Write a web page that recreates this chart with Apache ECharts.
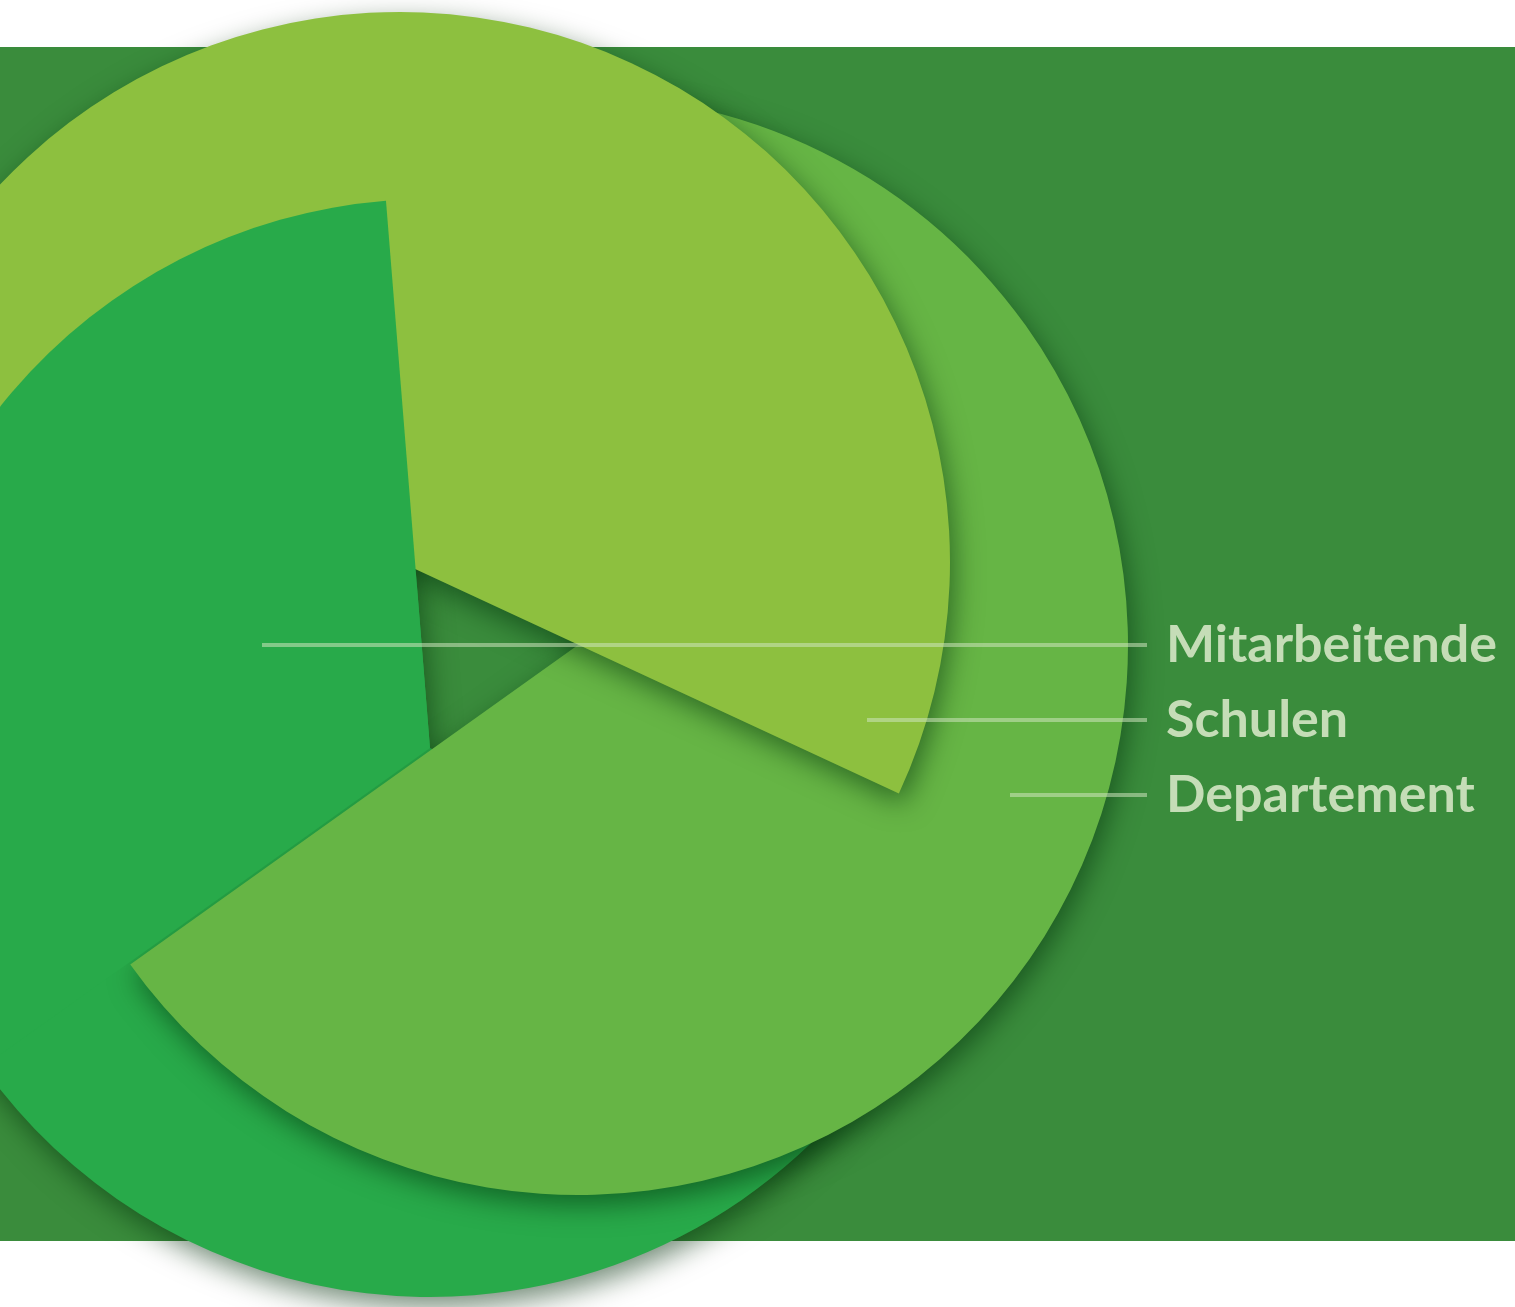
<!DOCTYPE html>
<html>
<head>
<meta charset="utf-8">
<script src="https://cdn.jsdelivr.net/npm/echarts@6/dist/echarts.min.js"></script>
<style>
  html, body { margin: 0; padding: 0; background: #fff; }
  #chart { width: 1515px; height: 1307px; }
</style>
</head>
<body>
<div id="chart"></div>
<script>
// data
const categories = ['Mitarbeitende', 'Schulen', 'Departement']
const sweep = [240, 240, 240] // arc of each slice, degrees

// layout
const colors = ['#28AA4A', '#8DC03F', '#66B545']
const centers = [[430, 748], [400, 562], [578, 645]]
const startAngles = [94.6, 335.1, 215.5]
const radii = [549, 550, 550]
const labelY = [645, 720, 795]
const lineStart = [262, 867, 1010]
const lineEnd = 1147
const labelX = 1166

const shadow = {
  shadowBlur: 28,
  shadowColor: 'rgba(0,45,10,0.55)',
  shadowOffsetX: 4,
  shadowOffsetY: 10
}

// one slice of a category; kind: 'fill' | 'flat' (no shadow) | 'label' (invisible, carries the label)
function slice(i, arc, z, kind) {
  const withLabel = kind === 'label'
  let style = { color: colors[i] }
  if (kind === 'fill') style = Object.assign(style, shadow)
  if (withLabel) style = { color: 'transparent' }
  return {
    type: 'pie',
    z: z,
    silent: true,
    clockwise: false,
    startAngle: startAngles[i],
    center: centers[i],
    radius: radii[i],
    avoidLabelOverlap: false,
    emphasis: { disabled: true },
    label: {
      show: withLabel,
      position: 'outside',
      color: '#C5DDB7',
      fontFamily: 'Lato',
      fontWeight: 'bold',
      fontSize: 52
    },
    labelLine: {
      show: withLabel,
      lineStyle: { color: 'rgba(205,228,190,0.55)', width: 4 }
    },
    labelLayout: function () {
      return {
        x: labelX,
        y: labelY[i],
        align: 'left',
        verticalAlign: 'middle',
        labelLinePoints: [[lineStart[i], labelY[i]], [lineEnd - 1, labelY[i]], [lineEnd, labelY[i]]]
      }
    },
    data: [
      { name: categories[i], value: arc, itemStyle: style },
      {
        name: '',
        value: 360 - arc,
        itemStyle: { color: 'transparent' },
        label: { show: false },
        labelLine: { show: false }
      }
    ]
  }
}

const chart = echarts.init(document.getElementById('chart'))
chart.setOption({
  animation: false,
  backgroundColor: '#fff',
  graphic: [{
    type: 'rect',
    z: -10,
    shape: { x: 0, y: 47, width: 1515, height: 1194 },
    style: { fill: '#3A8C3C' }
  }],
  series: [
    slice(0, sweep[0], 1, 'fill'),
    slice(2, sweep[2], 2, 'fill'),
    slice(1, sweep[1], 3, 'fill'),
    // front part of the first slice, lying over the second one
    slice(0, startAngles[2] - startAngles[0], 4, 'flat'),
    // labels on top of everything
    slice(0, sweep[0], 10, 'label'),
    slice(1, sweep[1], 10, 'label'),
    slice(2, sweep[2], 10, 'label')
  ]
})
</script>
</body>
</html>
